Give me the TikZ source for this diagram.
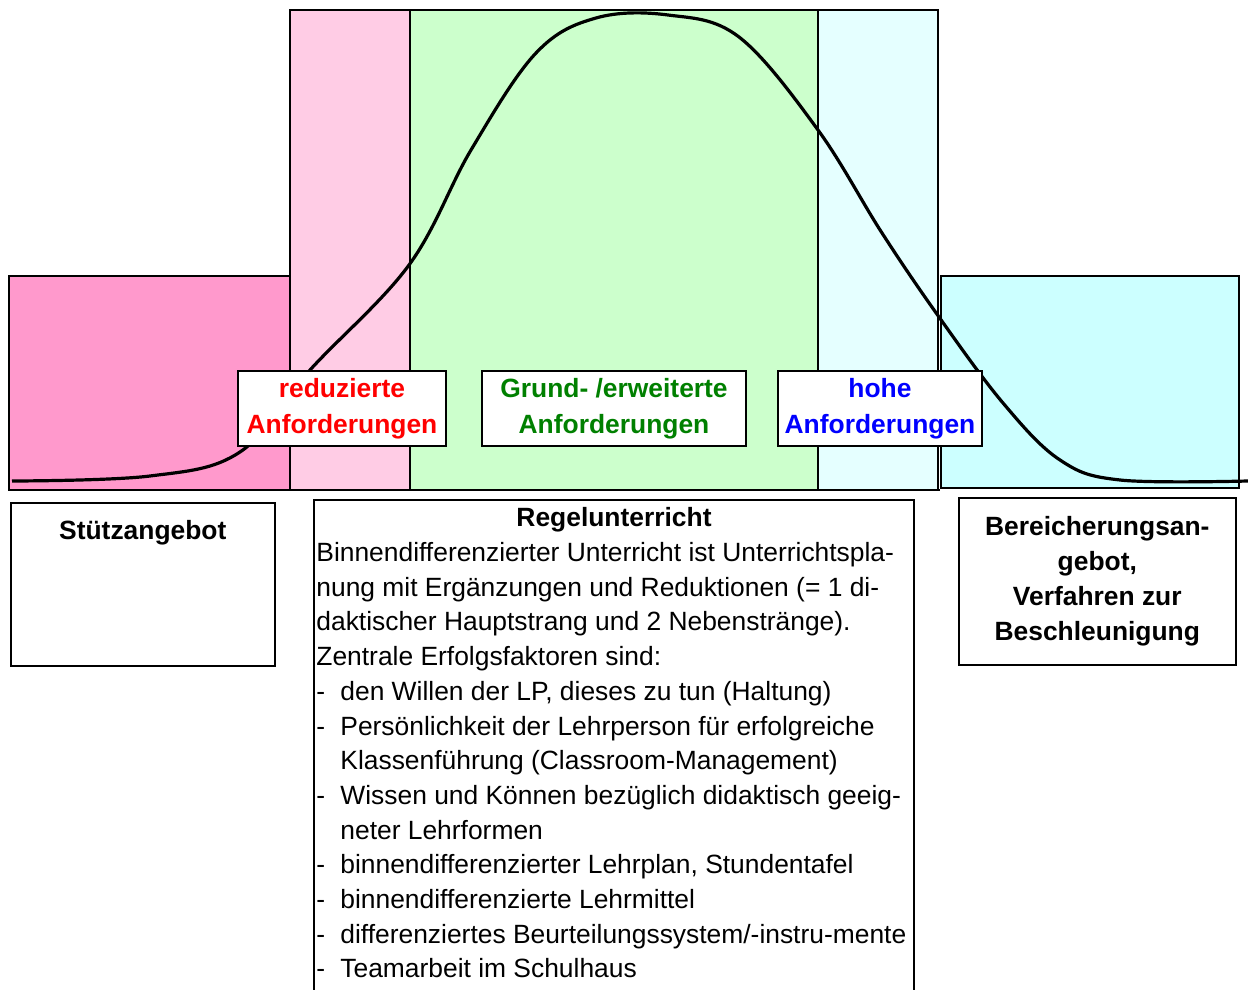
\documentclass[tikz,border=0pt]{standalone}
\usepackage{fontspec}
\setmainfont{Liberation Sans}
\usetikzlibrary{calc}

\definecolor{stuetzpink}{HTML}{FF99CC}
\definecolor{redpink}{HTML}{FFCCE5}
\definecolor{grundgreen}{HTML}{CCFFCC}
\definecolor{hohecyan}{HTML}{E5FFFF}
\definecolor{bereichcyan}{HTML}{CCFFFF}
\definecolor{textgreen}{HTML}{008000}

\begin{document}
\begin{tikzpicture}[x=0.5pt, y=-0.5pt]
	\tikzset{band/.style = {draw, line width = 0.8pt}}
	\tikzset{levelbox/.style = {draw, fill = white, line width = 0.9pt, align = center, inner sep = 1pt, minimum height = 37.5pt, font = \fontsize{13.2}{18}\selectfont\bfseries}}
	\tikzset{offerbox/.style = {draw, line width = 0.8pt, align = center, anchor = north west, font = \fontsize{13.2}{17.5}\selectfont\bfseries}}

\useasboundingbox (0,0) rectangle (1248,990);

%% Bands
\draw[band, fill = stuetzpink] (9,276) rectangle (290,490);
\draw[band, fill = redpink] (290,10) rectangle (410,490);
\draw[band, fill = grundgreen] (410,10) rectangle (818,490);
\draw[band, fill = hohecyan] (818,10) rectangle (938,490);
\draw[band, fill = bereichcyan] (941,276) rectangle (1239,488);
\draw[line width = 1.1pt] (9,490) -- (940,490);

%% Distribution curve
\draw[line width = 1.6pt, line join = round] plot[smooth, tension = 0.6] coordinates {
	(12,481) (150,476) (240,452) (310,370) (409,265) (471,150) (536,53)
	(596,18) (668,15) (739,37) (818,130) (882,233) (939,317) (1003,403)
	(1060,460) (1120,480) (1248,481)};

%% Level boxes
\node[levelbox, minimum width = 104pt, text = red] (reduziert) at (342,408.5) {reduzierte\\Anforderungen};
\node[levelbox, minimum width = 132pt, text = textgreen] (grund) at (614,408.5) {Grund- /erweiterte\\Anforderungen};
\node[levelbox, minimum width = 102pt, text = blue] (hohe) at (880,408.5) {hohe\\Anforderungen};

%% Offer boxes
\node[offerbox, minimum width = 132pt, minimum height = 81.5pt] (stuetz) at (10,502) {};
\node[font = \fontsize{13.2}{17.5}\selectfont\bfseries] (stuetztext) at ($(stuetz.north)+(0,31)$) {Stützangebot};

\node[offerbox, minimum width = 138.5pt, minimum height = 83.5pt] (bereich) at (958,497) {Bereicherungsan-\\gebot,\\Verfahren zur\\Beschleunigung};

%% Regular teaching
\draw[line width = 0.8pt] (314,500) rectangle (914,1000);
\node[font = \fontsize{13.2}{17.5}\selectfont\bfseries] (regel) at (614,520) {Regelunterricht};
\node[anchor = north west, align = left, inner sep = 0pt, font = \fontsize{13.2}{17.35}\selectfont] (regeltext) at (316,542) {%
	Binnendifferenzierter Unterricht ist Unterrichtspla-\\
	nung mit Ergänzungen und Reduktionen (= 1 di-\\
	daktischer Hauptstrang und 2 Nebenstränge).\\
	Zentrale Erfolgsfaktoren sind:\\
	\makebox[12pt][l]{-}den Willen der LP, dieses zu tun (Haltung)\\
	\makebox[12pt][l]{-}Persönlichkeit der Lehrperson für erfolgreiche\\
	\hspace*{12pt}Klassenführung (Classroom-Management)\\
	\makebox[12pt][l]{-}Wissen und Können bezüglich didaktisch geeig-\\
	\hspace*{12pt}neter Lehrformen\\
	\makebox[12pt][l]{-}binnendifferenzierter Lehrplan, Stundentafel\\
	\makebox[12pt][l]{-}binnendifferenzierte Lehrmittel\\
	\makebox[12pt][l]{-}differenziertes Beurteilungssystem/-instru-mente\\
	\makebox[12pt][l]{-}Teamarbeit im Schulhaus};
\end{tikzpicture}
\end{document}
